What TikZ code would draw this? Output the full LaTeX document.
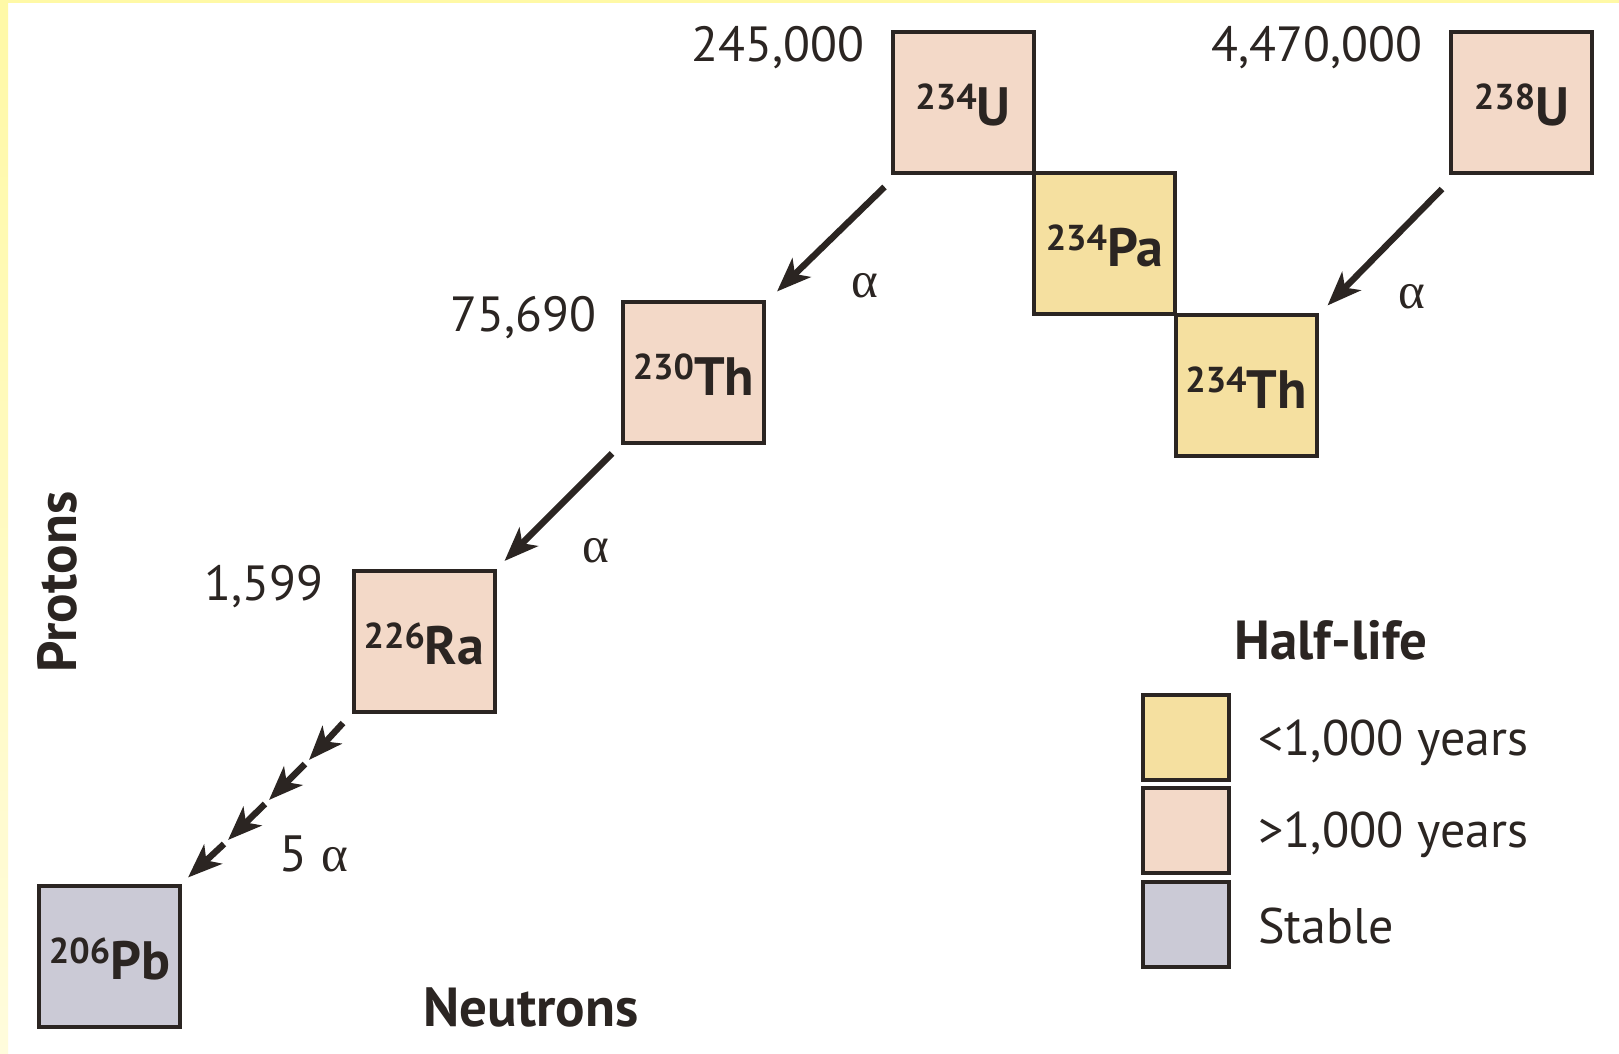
\documentclass[tikz,border=0pt]{standalone}
\usepackage{fontspec}
\setmainfont{PT Sans}
\newfontfamily\greekfont{Liberation Serif}
\usetikzlibrary{arrows.meta}

\definecolor{longlived}{HTML}{F3D9C8}
\definecolor{shortlived}{HTML}{F5E0A0}
\definecolor{stablecol}{HTML}{CBCAD6}
\definecolor{ink}{HTML}{2B2522}
\definecolor{frameyellow}{HTML}{FFF9A6}
\definecolor{framepale}{HTML}{FFFCDC}

% isotope label: mass number raised, element symbol large;
% the fixed box height puts the baseline a little below the centre
\newcommand\isolabel[2]{\raisebox{0pt}[23pt][0pt]{{\fontsize{18}{18}\selectfont\raisebox{8pt}{#1}}{\fontsize{27}{27}\selectfont #2}}}
\newcommand\alphasym{{\greekfont α}}

\begin{document}
\begin{tikzpicture}[x=0.5pt,y=-0.5pt,
  nuclide/.style={draw=ink, line width=2pt, minimum size=70.5pt, inner sep=0pt,
                  font=\bfseries, text=ink},
  keybox/.style={draw=ink, line width=2pt, minimum width=43pt, minimum height=42.5pt, inner sep=0pt},
  halflife/.style={font=\fontsize{24.7}{25}\selectfont, text=ink, inner sep=0pt},
  keytext/.style={font=\fontsize{25}{25}\selectfont, text=ink, inner sep=0pt, anchor=base west},
  decaylabel/.style={font=\fontsize{25.5}{26}\selectfont, text=ink, inner sep=0pt},
  axislabel/.style={font=\fontsize{27.5}{28}\selectfont\bfseries, text=ink, inner sep=0pt},
  decay/.style={draw=ink, line width=3.2pt, -{Stealth[length=17pt,width=13pt,inset=4.5pt]}}]

% page and its yellow frame
\fill[white] (0,0) rectangle (1619,1054);
\fill[frameyellow] (0,0) rectangle (1619,3);
\shade[top color=frameyellow, bottom color=framepale] (0,0) rectangle (8,1054);

% nuclides
\node[nuclide, fill=longlived]  (u234)  at (963,102.5)   {\isolabel{234}{U}};
\node[nuclide, fill=longlived]  (u238)  at (1521.5,102.5) {\isolabel{238}{U}};
\node[nuclide, fill=shortlived] (pa234) at (1104.5,243.5) {\isolabel{234}{Pa}};
\node[nuclide, fill=shortlived] (th234) at (1246,385)    {\isolabel{234}{Th}};
\node[nuclide, fill=longlived]  (th230) at (693.5,372)   {\isolabel{230}{Th}};
\node[nuclide, fill=longlived]  (ra226) at (424,641.5)   {\isolabel{226}{Ra}};
\node[nuclide, fill=stablecol]  (pb206) at (109.5,956)   {\isolabel{206}{Pb}};

% half-lives
\node[halflife, anchor=base east] (hu234)  at (865,62)   {245,000};
\node[halflife, anchor=base east] (hu238)  at (1423,62)  {4,470,000};
\node[halflife, anchor=base east] (hth230) at (597,331)  {75,690};
\node[halflife, anchor=base east] (hra226) at (324,600)  {1,599};

% alpha decays
\draw[decay] ([shift={(-6,12)}]u234.south west) -- ([shift={(11,-8)}]th230.north east);
\draw[decay] ([shift={(-7,14)}]u238.south west) -- ([shift={(9,-7)}]th234.north east);
\draw[decay] ([shift={(-9,9)}]th230.south west) -- ([shift={(8,-8)}]ra226.north east);

% chain of five alpha decays down to lead
\coordinate (c0) at (343,723);
\coordinate (c1) at (309,760);
\coordinate (c1s) at (305,764);
\coordinate (c2) at (269,800);
\coordinate (c2s) at (265,804);
\coordinate (c3) at (228,840);
\coordinate (c3s) at (224,844);
\draw[decay] (c0) -- (c1);
\draw[decay] (c1s) -- (c2);
\draw[decay] (c2s) -- (c3);
\draw[decay] (c3s) -- ([shift={(6,-6)}]pb206.north east);

\node[decaylabel] (a1) at (865,286) {\alphasym};
\node[decaylabel] (a2) at (1412,297) {\alphasym};
\node[decaylabel] (a3) at (596,551) {\alphasym};
\node[decaylabel] (a4) at (314,854) {5 \alphasym};

% axes
\node[axislabel, rotate=90] (protons) at (57,582) {Protons};
\node[axislabel] (neutrons) at (531,1007) {Neutrons};

% key
\node[axislabel] (keytitle) at (1331,640) {Half-life};
\node[keybox, fill=shortlived] (k1) at (1186,737.5) {};
\node[keybox, fill=longlived]  (k2) at (1186,830.5) {};
\node[keybox, fill=stablecol]  (k3) at (1186,924)   {};
\node[keytext] (t1) at (1258,755) {<1,000 years};
\node[keytext] (t2) at (1258,847) {>1,000 years};
\node[keytext] (t3) at (1258,943) {Stable};
\end{tikzpicture}
\end{document}
